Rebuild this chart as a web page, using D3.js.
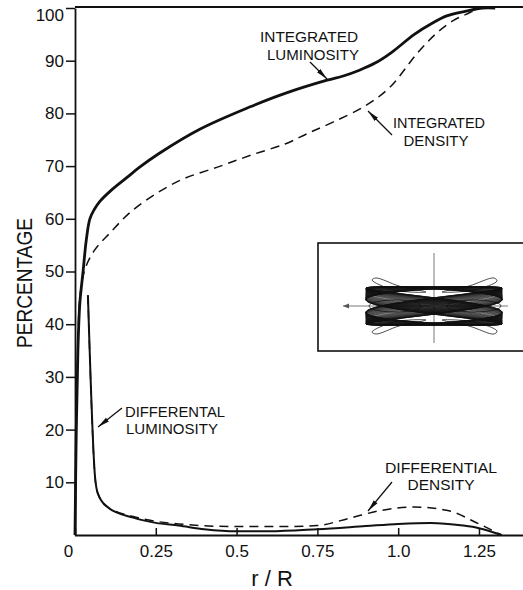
<!DOCTYPE html>
<html>
<head>
<meta charset="utf-8">
<script src="https://cdn.jsdelivr.net/npm/d3@7"></script>
<style>
  body { margin: 0; background: #fff; }
  svg { display: block; }
  .tick text { font-family: "Liberation Sans", Arial, sans-serif; font-size: 17px; fill: #111; }
  .lbl { font-family: "Liberation Sans", Arial, sans-serif; fill: #111; }
</style>
</head>
<body>
<div id="chart"></div>
<script>
// axis ticks
const rTicks = [0, 0.25, 0.5, 0.75, 1.0, 1.25];
const rTickLabels = ["0", "0.25", "0.5", "0.75", "1.0", "1.25"];
const pctTicks = [10, 20, 30, 40, 50, 60, 70, 80, 90, 100];

// integrated luminosity (solid)
const intLumR = [0, 0.004, 0.009, 0.015, 0.025, 0.035, 0.046, 0.06, 0.077, 0.11, 0.16, 0.2, 0.26, 0.386, 0.54, 0.65, 0.78, 0.83, 0.88, 0.93, 0.98, 1.05, 1.105, 1.15, 1.21, 1.26, 1.3];
const intLum = [0, 20, 35, 44, 50, 56, 60, 61.8, 63.3, 65.3, 67.8, 69.8, 72.4, 77, 81.2, 83.8, 86.3, 87.1, 88.2, 89.6, 91.6, 95, 97.1, 98.5, 99.4, 100, 100];

// integrated density (dashed)
const intDenR = [0, 0.004, 0.009, 0.015, 0.03, 0.06, 0.108, 0.18, 0.315, 0.45, 0.55, 0.65, 0.72, 0.8, 0.9, 0.975, 1.06, 1.12, 1.17, 1.21, 1.26, 1.3];
const intDen = [0, 20, 36, 45, 50.3, 54, 57.3, 61.7, 67, 70, 72.2, 74.2, 76.2, 78.4, 81.5, 85, 91.5, 95.3, 97.6, 98.8, 100, 100];

// differential luminosity (solid)
const difLumR = [0.04, 0.062, 0.07, 0.1, 0.18, 0.25, 0.32, 0.4, 0.5, 0.6, 0.75, 0.9, 1.0, 1.1, 1.2, 1.25, 1.32];
const difLum = [45.5, 11, 8, 5.3, 3.3, 2.3, 1.8, 1.1, 0.7, 0.7, 1.1, 1.7, 2.1, 2.3, 1.8, 1.3, 0];

// differential density (dashed)
const difDenR = [0.04, 0.062, 0.07, 0.1, 0.18, 0.25, 0.32, 0.5, 0.65, 0.75, 0.85, 0.95, 1.05, 1.15, 1.25, 1.32];
const difDen = [45.5, 11, 8, 5.4, 3.5, 2.6, 2.1, 1.6, 1.6, 1.8, 3.2, 4.7, 5.3, 4.7, 2.1, 0];

const W = 523, H = 590;
const svg = d3.select("#chart").append("svg").attr("width", W).attr("height", H);

const x = d3.scaleLinear().domain([0, 1.38]).range([75, 521]);
const y = d3.scaleLinear().domain([0, 100]).range([535, 8]);

const defs = svg.append("defs");
defs.append("marker")
  .attr("id", "arr")
  .attr("viewBox", "0 0 12 6")
  .attr("refX", 12).attr("refY", 3)
  .attr("markerWidth", 12).attr("markerHeight", 6)
  .attr("markerUnits", "userSpaceOnUse")
  .attr("orient", "auto")
  .append("path").attr("d", "M0,0.6 L12,3 L0,5.4 Z").attr("fill", "#111");

// frame: top line
svg.append("line")
  .attr("x1", x(0)).attr("x2", W).attr("y1", y(100) - 1).attr("y2", y(100) - 1)
  .attr("stroke", "#111").attr("stroke-width", 1.8);

// y axis
const yAxis = svg.append("g")
  .attr("transform", `translate(${x(0)},0)`)
  .call(d3.axisLeft(y).tickValues(pctTicks).tickSize(9).tickSizeOuter(0).tickPadding(2));
yAxis.select(".domain").attr("stroke", "#111").attr("stroke-width", 1.8);
yAxis.selectAll(".tick line").attr("stroke", "#111").attr("stroke-width", 1.5);
yAxis.selectAll(".tick").filter((d) => d === 100).select("text").attr("dy", "0.72em");

// x axis
const xAxis = svg.append("g")
  .attr("transform", `translate(0,${y(0)})`)
  .call(d3.axisBottom(x).tickValues(rTicks).tickSize(-7).tickSizeOuter(0).tickPadding(10)
    .tickFormat((d, i) => rTickLabels[i]));
xAxis.select(".domain").attr("d", `M${x(0)},0.5H${W}`).attr("stroke", "#111").attr("stroke-width", 1.8);
xAxis.selectAll(".tick line").attr("stroke", "#111").attr("stroke-width", 1.5);
xAxis.selectAll(".tick").filter((d) => d === 0).select("text").attr("x", -7);

// axis titles
svg.append("text").attr("class", "lbl")
  .attr("transform", `translate(32,283) rotate(-90)`)
  .attr("text-anchor", "middle").attr("font-size", 22)
  .attr("textLength", 130).attr("lengthAdjust", "spacingAndGlyphs")
  .text("PERCENTAGE");
svg.append("text").attr("class", "lbl")
  .attr("x", 272).attr("y", 586)
  .attr("text-anchor", "middle").attr("font-size", 22)
  .text("r / R");

// curves
const smooth = d3.line().x((d) => x(d[0])).y((d) => y(d[1])).curve(d3.curveCatmullRom.alpha(0.5));
const mono = d3.line().x((d) => x(d[0])).y((d) => y(d[1])).curve(d3.curveMonotoneX);
const series = [
  { r: intLumR, v: intLum, w: 2.8, dash: null, gen: smooth },
  { r: intDenR, v: intDen, w: 1.5, dash: "9,6", gen: smooth },
  { r: difLumR, v: difLum, w: 2, dash: null, gen: mono },
  { r: difDenR, v: difDen, w: 1.5, dash: "9,6", gen: mono },
];
series.forEach((s) => {
  svg.append("path")
    .datum(s.r.map((r, i) => [r, s.v[i]]))
    .attr("d", s.gen)
    .attr("fill", "none")
    .attr("stroke", "#111")
    .attr("stroke-width", s.w)
    .attr("stroke-dasharray", s.dash);
});

// annotations: [text, x, baseline, width]
function label(rows, anchor) {
  rows.forEach(([s, lx, ly, len]) => {
    svg.append("text").attr("class", "lbl")
      .attr("x", lx).attr("y", ly)
      .attr("font-size", 15).attr("text-anchor", anchor)
      .attr("textLength", len).attr("lengthAdjust", "spacingAndGlyphs")
      .text(s);
  });
}
function arrow(x1, y1, x2, y2) {
  svg.append("line").attr("x1", x1).attr("y1", y1).attr("x2", x2).attr("y2", y2)
    .attr("stroke", "#111").attr("stroke-width", 1.3).attr("marker-end", "url(#arr)");
}
label([["INTEGRATED", 309, 42, 98], ["LUMINOSITY", 313, 59.5, 92]], "middle");
arrow(310, 62, 327, 79);
label([["INTEGRATED", 439, 128, 92], ["DENSITY", 436, 145.5, 65]], "middle");
arrow(392, 135, 368, 111);
label([["DIFFERENTAL", 125, 416.5, 100], ["LUMINOSITY", 126, 434, 92]], "start");
arrow(122, 408, 98, 427);
label([["DIFFERENTIAL", 441, 472.5, 112], ["DENSITY", 441, 490, 67]], "middle");
arrow(392, 482, 368, 511);

// inset: orbit sketch
const inset = svg.append("g");
inset.append("rect").attr("x", 318).attr("y", 243).attr("width", 215).attr("height", 108)
  .attr("fill", "#fff").attr("stroke", "#111").attr("stroke-width", 1.6);
const cx = 434, cy = 306;
inset.append("line").attr("x1", 343).attr("x2", 508).attr("y1", cy).attr("y2", cy)
  .attr("stroke", "#555").attr("stroke-width", 0.8);
inset.append("line").attr("x1", cx).attr("x2", cx).attr("y1", 253).attr("y2", 343)
  .attr("stroke", "#555").attr("stroke-width", 0.8);
inset.append("path").attr("d", `M343,${cy} l6,-2.5 v5 z`).attr("fill", "#555");

// thin outer loops and axis ovals
const loopPts = [
  [[cx - 8, cy - 14], [cx - 35, cy - 20], [cx - 58, cy - 28], [cx - 62, cy - 26], [cx - 40, cy - 16]],
  [[cx + 8, cy - 14], [cx + 35, cy - 20], [cx + 60, cy - 28], [cx + 63, cy - 25], [cx + 40, cy - 16]],
  [[cx - 8, cy + 14], [cx - 35, cy + 20], [cx - 58, cy + 28], [cx - 62, cy + 26], [cx - 40, cy + 16]],
  [[cx + 8, cy + 14], [cx + 35, cy + 20], [cx + 60, cy + 28], [cx + 63, cy + 25], [cx + 40, cy + 16]],
];
const loopLine = d3.line().curve(d3.curveCatmullRomClosed);
loopPts.forEach((p) => {
  inset.append("path").attr("d", loopLine(p))
    .attr("fill", "none").attr("stroke", "#222").attr("stroke-width", 0.8);
});
[[cx - 39, 26], [cx + 40, 27]].forEach(([ex, rx]) => {
  inset.append("ellipse").attr("cx", ex).attr("cy", cy).attr("rx", rx).attr("ry", 6)
    .attr("fill", "none").attr("stroke", "#222").attr("stroke-width", 0.8);
});

const orbit = [];
for (let t = 0; t <= Math.PI * 2 * 60; t += 0.02) {
  const ph = Math.PI / 4 + 0.45 * Math.sin(t / 61);
  orbit.push([cx - 68 * Math.cos(2 * t), cy - 19 * Math.cos(t - ph)]);
}
inset.append("path")
  .attr("d", d3.line()(orbit))
  .attr("fill", "none").attr("stroke", "#111").attr("stroke-width", 0.55).attr("stroke-opacity", 0.8);
</script>
</body>
</html>
